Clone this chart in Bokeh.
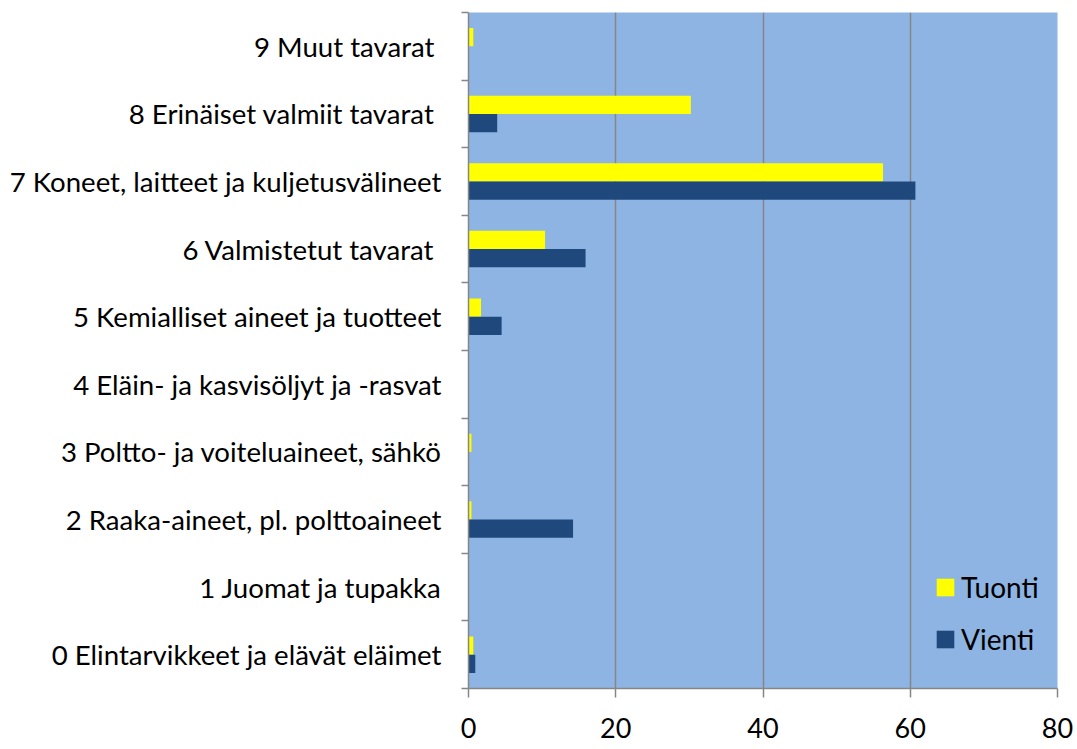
from bokeh.plotting import figure
from bokeh.models import ColumnDataSource, FixedTicker, Range1d, Legend, LegendItem
from bokeh.embed import file_html
from bokeh.resources import INLINE

categories = [
    "0 Elintarvikkeet ja elävät eläimet",
    "1 Juomat ja tupakka",
    "2 Raaka-aineet, pl. polttoaineet",
    "3 Poltto- ja voiteluaineet, sähkö",
    "4 Eläin- ja kasvisöljyt ja -rasvat",
    "5 Kemialliset aineet ja tuotteet",
    "6 Valmistetut tavarat ",
    "7 Koneet, laitteet ja kuljetusvälineet",
    "8 Erinäiset valmiit tavarat ",
    "9 Muut tavarat ",
]
tuonti = [0.65, 0.0, 0.4, 0.4, 0.0, 1.7, 10.4, 56.3, 30.2, 0.65]
vienti = [0.92, 0.0, 14.2, 0.0, 0.0, 4.5, 15.9, 60.7, 3.9, 0.0]
x_ticks = [0, 20, 40, 60, 80]

FONT = "Lato"
centers = [i + 0.5 for i in range(len(categories))]
bounds = [i for i in range(len(categories) + 1)]

src = ColumnDataSource(dict(
    yt=[c + 0.135 for c in centers],
    yv=[c - 0.135 for c in centers],
    tuonti=tuonti,
    vienti=vienti,
))

p = figure(
    width=1075, height=748,
    x_range=Range1d(0, 80), y_range=Range1d(0, 10),
    output_backend="svg", toolbar_location=None,
    min_border_left=468, min_border_right=18, min_border_top=12, min_border_bottom=60,
)
p.background_fill_color = "#8EB4E3"
p.border_fill_color = "white"
p.outline_line_color = None

rt = p.hbar(y="yt", left=0, right="tuonti", height=0.27, source=src,
            fill_color="#FFFF00", line_color=None)
rv = p.hbar(y="yv", left=0, right="vienti", height=0.27, source=src,
            fill_color="#1F497D", line_color=None)

# x axis
p.xaxis.ticker = FixedTicker(ticks=x_ticks, minor_ticks=[])
p.xaxis.axis_line_color = "#868686"
p.xaxis.axis_line_width = 1.5
p.xaxis.major_tick_line_color = "#868686"
p.xaxis.major_tick_line_width = 1.5
p.xaxis.major_tick_out = 9
p.xaxis.major_tick_in = 0
p.xaxis.minor_tick_line_color = None
p.xaxis.major_label_text_font = FONT
p.xaxis.major_label_text_font_size = "27px"
p.xaxis.major_label_text_color = "black"
p.xaxis.major_label_standoff = 20

# y axis
p.yaxis.ticker = FixedTicker(ticks=centers, minor_ticks=bounds)
p.yaxis.major_label_overrides = {c: lab for c, lab in zip(centers, categories)}
p.yaxis.axis_line_color = "#868686"
p.yaxis.axis_line_width = 1.5
p.yaxis.major_tick_line_color = None
p.yaxis.major_tick_out = 0
p.yaxis.major_tick_in = 0
p.yaxis.minor_tick_line_color = "#868686"
p.yaxis.minor_tick_line_width = 1.5
p.yaxis.minor_tick_out = 7
p.yaxis.minor_tick_in = 0
p.yaxis.major_label_text_font = FONT
p.yaxis.major_label_text_font_size = "27.6px"
p.yaxis.major_label_text_color = "black"
p.yaxis.major_label_standoff = 20

p.xgrid.ticker = FixedTicker(ticks=x_ticks)
p.xgrid.grid_line_color = "#868686"
p.xgrid.grid_line_width = 1.5
p.ygrid.visible = False

legend = Legend(
    items=[LegendItem(label="Tuonti", renderers=[rt]),
           LegendItem(label="Vienti", renderers=[rv])],
    location=(466, 32),
    orientation="vertical",
    padding=0, margin=0, spacing=18,
    glyph_width=22, glyph_height=22, label_height=18,
    label_standoff=5,
    label_text_font=FONT, label_text_font_size="28px",
    label_text_color="black",
    background_fill_alpha=0, border_line_color=None,
)
p.add_layout(legend)

open("out.html", "w").write(file_html(p, INLINE))
